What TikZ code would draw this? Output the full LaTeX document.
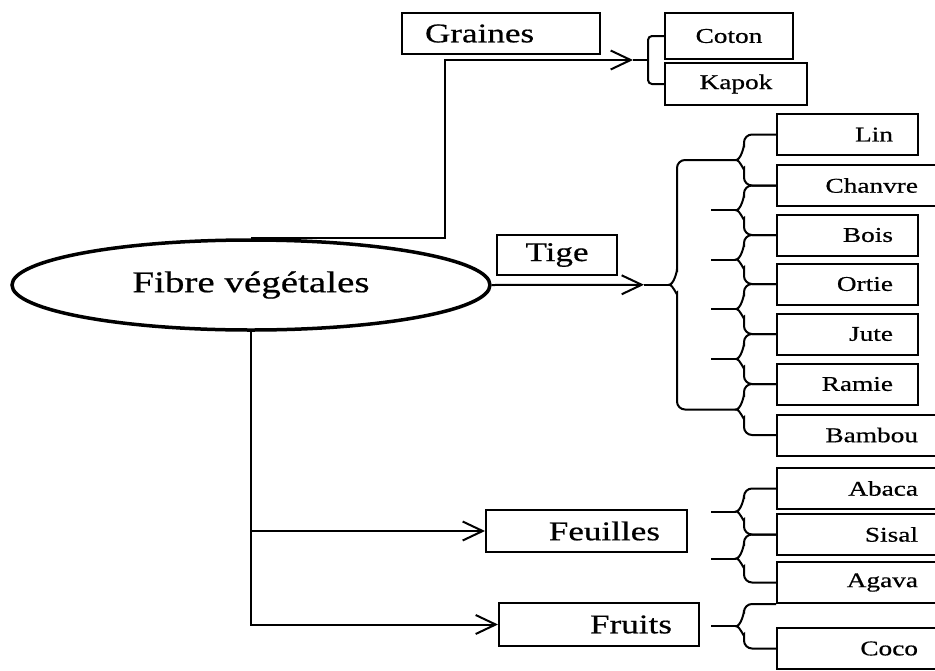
\documentclass[tikz,border=0pt]{standalone}
\usepackage{fontspec}
\setmainfont[FakeStretch=1.3,FakeBold=0.6]{Liberation Serif}
\usetikzlibrary{shapes.geometric,arrows.meta,calc}

\tikzset{
	trait/.style={line width=2pt},
	fleche/.style={trait,-{Straight Barb[length=20pt,width=19pt]}},
	boite/.style={draw, line width=2pt, inner ysep=0pt},
	categorie/.style={boite, font=\fontsize{27}{32}\selectfont},
	fibre/.style={boite, font=\fontsize{21}{25}\selectfont, minimum height=41pt, align=right},
	courte/.style={fibre, text width=91pt, inner xsep=25pt},
	longue/.style={fibre, text width=114pt, inner xsep=27pt}
}

% accolade : haut, bas, pointe
\newcommand{\accolade}[3]{%
	\draw[trait] (#1) [rounded corners=8pt] -| ($(#3)+(8,-8)$) [sharp corners] to[out=-90,in=0] (#3) to[out=0,in=90] ($(#3)+(8,8)$) [rounded corners=8pt] |- (#2);}

\begin{document}
\begin{tikzpicture}[x=1pt,y=1pt,yscale=-1]
	\useasboundingbox (0,0) rectangle (935,670);
	
	% Ellipse
	\node[ellipse, draw, line width=3.5pt, minimum width=478pt, minimum height=90pt, font=\fontsize{30}{36}\selectfont] (vegetal) at (251,285) {Fibre végétales};
	
	% Categories
	\node[categorie, minimum height=41pt, text width=152pt, inner xsep=23pt, align=left] (graines) at (501,33.5) {Graines};
	\node[categorie, minimum height=40pt, minimum width=120pt] (tige) at (557,255) {Tige};
	\node[categorie, minimum height=42pt, text width=147pt, inner xsep=27pt, align=right] (feuilles) at (586.5,531) {Feuilles};
	\node[categorie, minimum height=43pt, text width=146pt, inner xsep=27pt, align=right] (fruits) at (599,624.5) {Fruits};
	
	% Graines
	\node[boite, font=\fontsize{21}{25}\selectfont, minimum width=128pt, minimum height=46pt] (coton) at (729,36) {Coton};
	\node[boite, font=\fontsize{21}{25}\selectfont, minimum width=142pt, minimum height=42pt] (kapok) at (736,84) {Kapok};
	
	% Tige
	\node[courte] (lin) at (847.5,134.5) {Lin};
	\node[longue] (chanvre) at (861,185.5) {Chanvre};
	\node[courte] (bois) at (847.5,235) {Bois};
	\node[courte] (ortie) at (847.5,284) {Ortie};
	\node[courte] (jute) at (847.5,334) {Jute};
	\node[courte] (ramie) at (847.5,384) {Ramie};
	\node[longue] (bambou) at (861,435) {Bambou};
	
	% Feuilles et fruits
	\node[longue] (abaca) at (861,488.5) {Abaca};
	\node[longue] (sisal) at (861,534.5) {Sisal};
	\node[longue] (agava) at (861,582.5) {Agava};
	\node[longue] (coco) at (861,648.5) {Coco};
	
	% Accolades de la tige
	\foreach \h/\b/\n in {lin/chanvre/1, chanvre/bois/2, bois/ortie/3, ortie/jute/4, jute/ramie/5, ramie/bambou/6}{
		\coordinate (p\n) at ($(\h.west)!0.5!(\b.west)+(-40,0)$);
		\accolade{\h.west}{\b.west}{p\n}
	}
	\foreach \n in {2,...,5}{
		\coordinate (s\n) at ($(p\n)+(-25,0)$);
		\draw[trait] (s\n) -- (p\n);
	}
	\coordinate (pTige) at ($(p1)!0.5!(p6)+(-67,0)$);
	\accolade{p1}{p6}{pTige}
	\coordinate (aT) at ($(pTige)+(-25,0)$);
	\draw[fleche] (vegetal.east) -- (aT);
	\draw[trait] (aT) -- (pTige);
	
	% Accolades des feuilles
	\coordinate (q1) at ($(abaca.west)!0.5!(sisal.west)+(-40,0)$);
	\coordinate (q2) at ($(sisal.west)!0.5!(agava.west)+(-40,0)$);
	\accolade{abaca.west}{sisal.west}{q1}
	\accolade{sisal.west}{agava.west}{q2}
	\foreach \n in {1,2}{
		\coordinate (t\n) at ($(q\n)+(-25,0)$);
		\draw[trait] (t\n) -- (q\n);
	}
	
	% Accolade des fruits
	\coordinate (r1) at ($(agava.south west)!0.5!(coco.west)+(-40,0)$);
	\accolade{agava.south west}{coco.west}{r1}
	\coordinate (u1) at ($(r1)+(-25,0)$);
	\draw[trait] (u1) -- (r1);
	
	% Graines
	\coordinate (coin) at ($(vegetal.north)+(194,0)$);
	\coordinate (aG) at (633,60);
	\coordinate (bG) at (648,60);
	\draw[fleche] (vegetal.north) -- (coin) |- (aG);
	\draw[trait] (aG) -- (bG);
	\draw[trait, rounded corners=4pt] (coton.west) -| (bG) |- (kapok.west);
	
	% Branches du bas
	\draw[fleche] (vegetal.south) |- (feuilles.west);
	\draw[fleche] (vegetal.south) |- (fruits.west);
\end{tikzpicture}
\end{document}
